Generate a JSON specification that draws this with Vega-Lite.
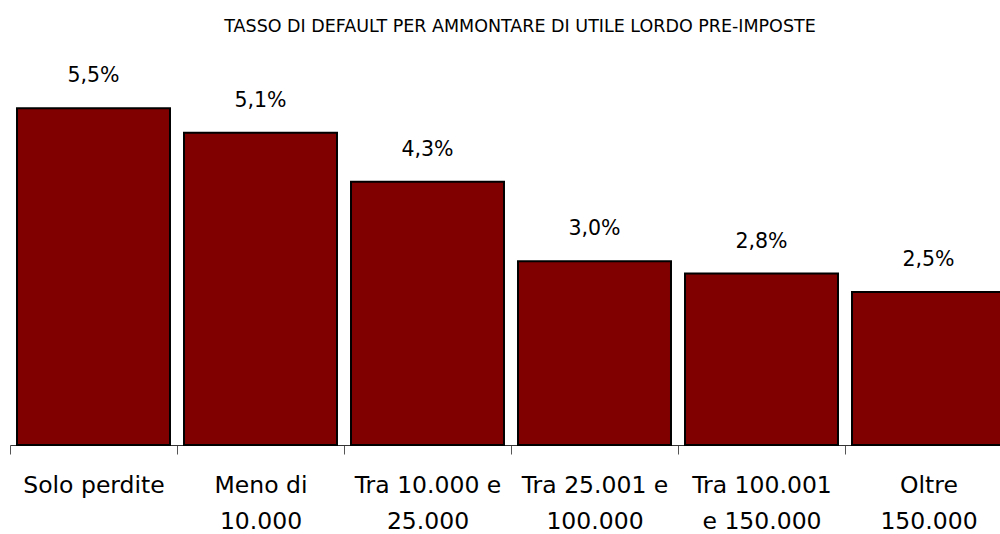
{
  "$schema": "https://vega.github.io/schema/vega-lite/v6.json",
  "autosize": {"type": "none"},
  "width": 1002,
  "height": 398,
  "padding": {"left": 10, "top": 47, "right": 0, "bottom": 89},
  "config": {
    "view": {"stroke": null},
    "font": "DejaVu Sans",
    "locale": {"number": {"decimal": ",", "thousands": ".", "grouping": [3], "currency": ["€", ""]}}
  },
  "title": {
    "text": "TASSO DI DEFAULT PER AMMONTARE DI UTILE LORDO PRE-IMPOSTE",
    "fontSize": 17.5,
    "fontWeight": "normal",
    "font": "DejaVu Sans",
    "color": "#000000",
    "anchor": "middle",
    "dx": 9,
    "offset": 12
  },
  "data": {
    "values": [
      {"categoria": "Solo perdite", "tasso": 0.055},
      {"categoria": "Meno di 10.000", "tasso": 0.051},
      {"categoria": "Tra 10.000 e 25.000", "tasso": 0.043},
      {"categoria": "Tra 25.001 e 100.000", "tasso": 0.030},
      {"categoria": "Tra 100.001 e 150.000", "tasso": 0.028},
      {"categoria": "Oltre 150.000", "tasso": 0.025}
    ]
  },
  "encoding": {
    "x": {
      "field": "categoria",
      "type": "nominal",
      "sort": null,
      "scale": {"paddingInner": 0, "paddingOuter": 0},
      "axis": {
        "title": null,
        "labelAngle": 0,
        "labelFont": "DejaVu Sans",
        "labelFontSize": 23.5,
        "labelColor": "#000000",
        "labelPadding": 19,
        "labelLineHeight": 36,
        "labelBaseline": "top",
        "labelExpr": "{'Solo perdite':['Solo perdite'],'Meno di 10.000':['Meno di','10.000'],'Tra 10.000 e 25.000':['Tra 10.000 e','25.000'],'Tra 25.001 e 100.000':['Tra 25.001 e','100.000'],'Tra 100.001 e 150.000':['Tra 100.001','e 150.000'],'Oltre 150.000':['Oltre','150.000']}[datum.label]",
        "tickBand": "extent",
        "tickSize": 9,
        "tickColor": "#555555",
        "domainColor": "#333333",
        "domainWidth": 1,
        "labelOverlap": false,
        "labelLimit": 0
      }
    },
    "y": {
      "field": "tasso",
      "type": "quantitative",
      "scale": {"domain": [0, 0.065], "nice": false},
      "axis": null
    }
  },
  "layer": [
    {
      "mark": {"type": "bar", "color": "#800000", "stroke": "#000000", "strokeWidth": 2, "width": {"band": 0.916}}
    },
    {
      "mark": {"type": "text", "baseline": "bottom", "dy": -22, "fontSize": 20.5, "font": "DejaVu Sans", "color": "#000000"},
      "encoding": {
        "text": {"field": "tasso", "type": "quantitative", "format": ".1%"}
      }
    }
  ]
}
